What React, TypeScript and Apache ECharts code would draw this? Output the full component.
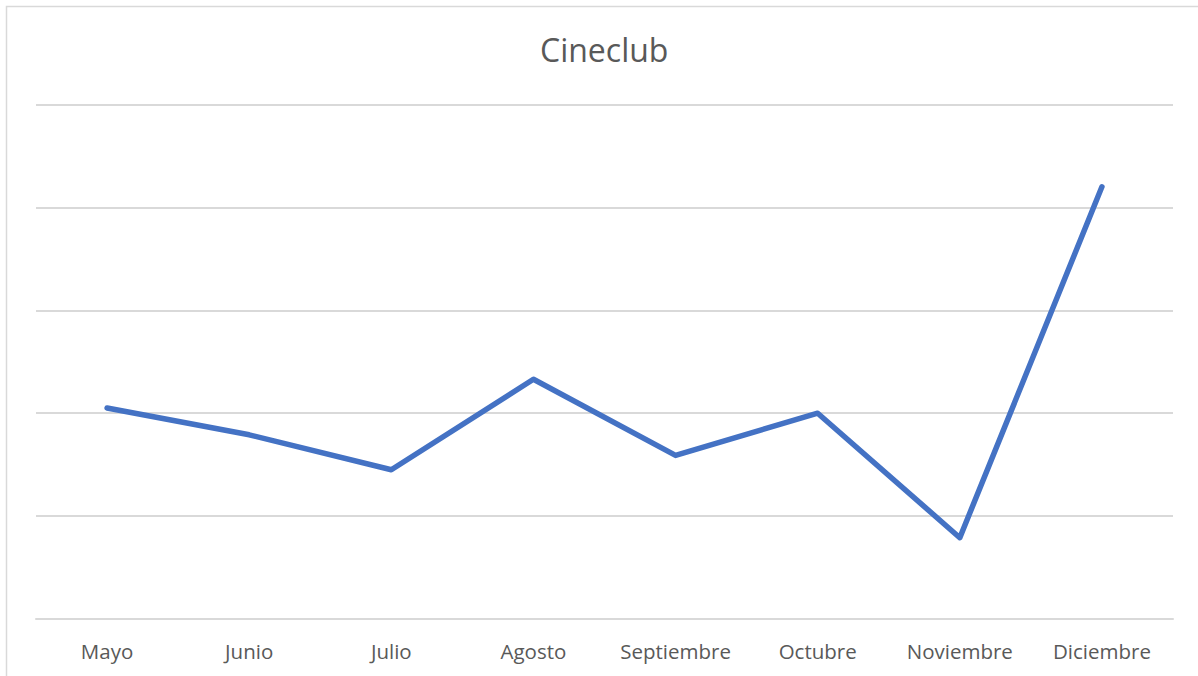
import React, { useEffect, useRef } from "react";
import * as echarts from "echarts";

const categories = ["Mayo", "Junio", "Julio", "Agosto", "Septiembre", "Octubre", "Noviembre", "Diciembre"];
const values = [2.05, 1.79, 1.45, 2.33, 1.59, 2.0, 0.79, 4.2];
const yTicks = [0, 1, 2, 3, 4, 5];

export default function App() {
  const ref = useRef<HTMLDivElement>(null);
  useEffect(() => {
    if (!ref.current) return;
    const chart = echarts.init(ref.current, undefined, { renderer: "svg" });
    chart.setOption({
      animation: false,
      backgroundColor: "#ffffff",
      title: {
        text: "Cineclub",
        left: 535,
        top: 28,
        textStyle: { color: "#595959", fontSize: 32, fontWeight: "normal", fontFamily: "Open Sans" },
      },
      graphic: [
        {
          type: "rect",
          shape: { x: 6.5, y: 6.5, width: 1300, height: 800 },
          style: { fill: "none", stroke: "#d9d9d9", lineWidth: 1.5 },
          silent: true,
        },
      ],
      grid: { left: 36, right: 25, top: 104.5, bottom: 57 },
      xAxis: {
        type: "category",
        data: categories,
        boundaryGap: true,
        axisLine: { lineStyle: { color: "#d9d9d9", width: 2 } },
        axisTick: { show: false },
        axisLabel: { color: "#595959", fontSize: 20.5, fontFamily: "Open Sans", margin: 21, interval: 0 },
      },
      yAxis: {
        type: "value",
        min: yTicks[0],
        max: yTicks[yTicks.length - 1],
        interval: 1,
        axisLabel: { show: false },
        axisLine: { show: false },
        axisTick: { show: false },
        splitLine: { lineStyle: { color: "#d9d9d9", width: 2 } },
      },
      series: [
        {
          type: "line",
          data: values,
          symbol: "none",
          lineStyle: { color: "#4472C4", width: 5.5, cap: "round", join: "round" },
        },
      ],
    });
    return () => chart.dispose();
  }, []);
  return <div ref={ref} style={{ position: "fixed", left: 0, top: 0, width: 1198, height: 676 }} />;
}
